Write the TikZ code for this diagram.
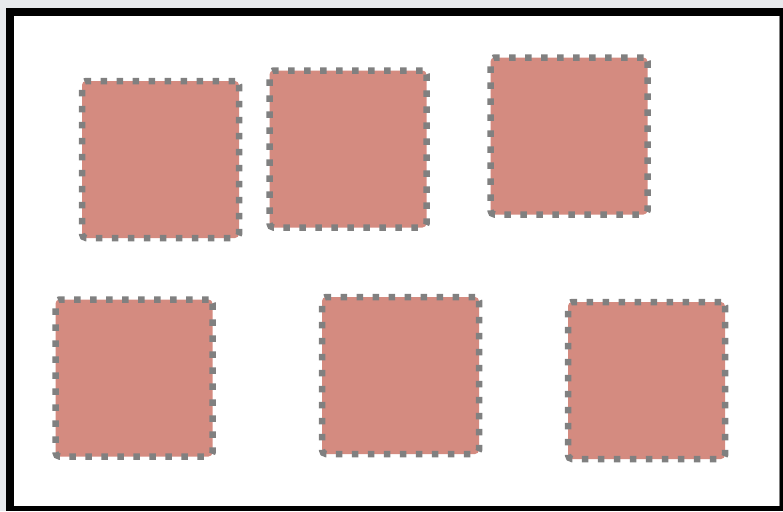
\documentclass[tikz,border=0pt]{standalone}
\usepackage{xcolor}
\definecolor{tilered}{HTML}{D48B80}
\definecolor{tileedge}{HTML}{808080}
\definecolor{pagegrey}{HTML}{E7E9EC}
\tikzset{
  tile/.style={fill=tilered, draw=tileedge, line width=6.5pt,
    dash pattern=on 6.5pt off 9.5pt, rounded corners=4pt,
    minimum size=157pt, inner sep=0pt}
}

\begin{document}
\begin{tikzpicture}[x=1pt, y=-1pt]
  \useasboundingbox (0,0) rectangle (783,511);
  % page and frame
  \fill[pagegrey] (0,0) rectangle (783,511);
  \fill[black] (6,8) rectangle (783,511);
  \fill[white] (14,16) rectangle (779,506);
  \draw[gray, line width=1pt] (779.5,16) -- (779.5,506);
  % tiles
  \node[tile] (t1) at (160.5,159.5) {};
  \node[tile] (t2) at (348,149) {};
  \node[tile] (t3) at (569,136) {};
  \node[tile] (t4) at (134,378) {};
  \node[tile] (t5) at (400.5,375.5) {};
  \node[tile] (t6) at (646.5,380.5) {};
\end{tikzpicture}
\end{document}
